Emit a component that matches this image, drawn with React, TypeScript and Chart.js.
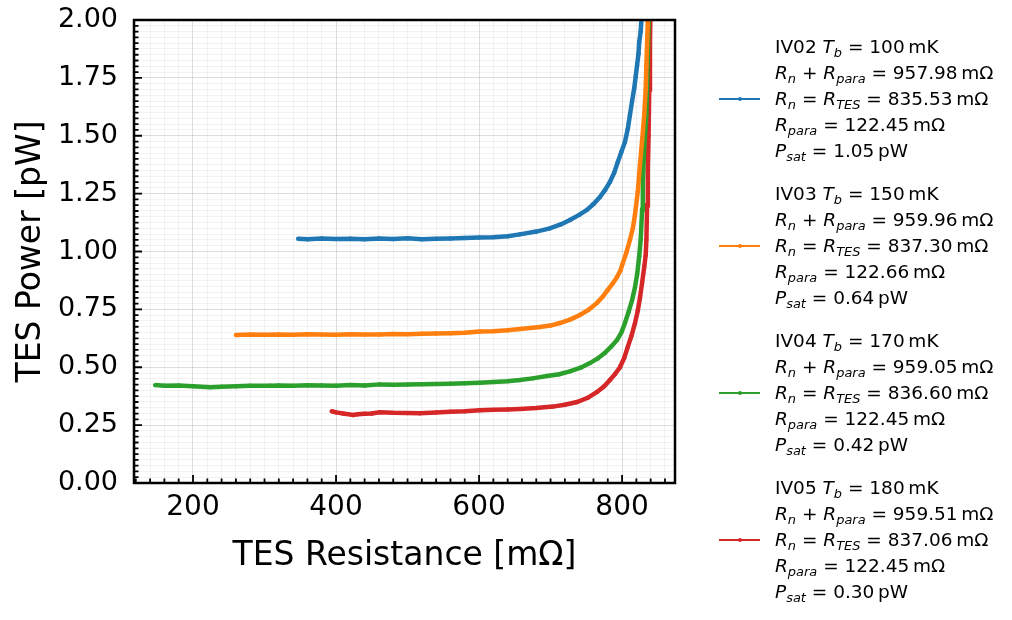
import { useEffect, useRef } from 'react';
import { Chart, registerables } from 'chart.js';

Chart.register(...registerables);
Chart.defaults.font.family = 'DejaVu Sans, sans-serif';

// matplotlib tab10
const COLORS = ['#1f77b4', '#ff7f0e', '#2ca02c', '#d62728'];

// IV02, Tb = 100 mK
const iv02R = [347, 360, 380, 400, 420, 440, 460, 480, 500, 520, 540, 560, 580, 600, 620, 640, 657, 680, 699, 715, 727, 740, 751, 760, 769, 776, 783, 789, 794, 799, 804, 808, 811, 814, 817, 819, 821, 823, 824, 826, 827, 830];
const iv02P = [1.055, 1.053, 1.056, 1.054, 1.055, 1.053, 1.056, 1.054, 1.057, 1.053, 1.055, 1.056, 1.058, 1.06, 1.062, 1.066, 1.074, 1.086, 1.1, 1.118, 1.136, 1.158, 1.18, 1.205, 1.235, 1.265, 1.3, 1.34, 1.387, 1.43, 1.473, 1.53, 1.59, 1.65, 1.706, 1.755, 1.806, 1.855, 1.905, 1.95, 2.0, 2.1];

// IV03, Tb = 150 mK
const iv03R = [260, 280, 300, 320, 340, 360, 380, 400, 420, 440, 461, 480, 500, 520, 540, 560, 580, 601, 620, 640, 657, 685, 700, 713, 728, 741, 753, 765, 773, 780, 787, 793, 798, 801, 806, 811, 815, 818, 822, 825, 828, 831, 833, 834, 836, 838];
const iv03P = [0.639, 0.641, 0.64, 0.642, 0.64, 0.643, 0.641, 0.64, 0.643, 0.641, 0.642, 0.644, 0.643, 0.645, 0.646, 0.647, 0.649, 0.654, 0.656, 0.66, 0.665, 0.674, 0.68, 0.691, 0.707, 0.726, 0.748, 0.778, 0.805, 0.834, 0.862, 0.89, 0.92, 0.95, 0.995, 1.05, 1.1, 1.158, 1.26, 1.374, 1.48, 1.59, 1.7, 1.806, 1.99, 2.1];

// IV04, Tb = 170 mK
const iv04R = [147, 160, 180, 200, 224, 240, 260, 280, 308, 320, 340, 360, 380, 400, 420, 440, 461, 480, 500, 520, 540, 560, 580, 601, 620, 640, 657, 675, 695, 712, 727, 742, 755, 766, 776, 785, 793, 799, 804, 809, 814, 818, 821, 824, 826, 828, 829, 831, 834, 836, 838];
const iv04P = [0.423, 0.42, 0.421, 0.418, 0.414, 0.416, 0.418, 0.42, 0.42, 0.421, 0.42, 0.422, 0.421, 0.42, 0.423, 0.421, 0.426, 0.424, 0.425, 0.427, 0.428, 0.429, 0.431, 0.433, 0.436, 0.44, 0.445, 0.452, 0.462, 0.47, 0.482, 0.498, 0.518, 0.538, 0.562, 0.59, 0.618, 0.65, 0.691, 0.738, 0.79, 0.845, 0.9, 0.98, 1.05, 1.18, 1.3, 1.45, 1.59, 1.85, 2.1];

// IV05, Tb = 180 mK
const iv05R = [394, 400, 410, 424, 430, 440, 450, 461, 480, 500, 517, 540, 560, 580, 601, 620, 640, 657, 680, 703, 720, 737, 752, 765, 775, 783, 790, 797, 803, 808, 813, 818, 822, 825, 828, 831, 833, 834, 835, 836, 837, 838, 839, 840];
const iv05P = [0.31, 0.305, 0.3, 0.294, 0.297, 0.299, 0.3, 0.306, 0.303, 0.302, 0.301, 0.305, 0.308, 0.31, 0.314, 0.316, 0.318, 0.32, 0.324, 0.33, 0.338, 0.35, 0.368, 0.393, 0.418, 0.445, 0.47, 0.5, 0.54, 0.588, 0.635, 0.69, 0.745, 0.8, 0.865, 0.933, 0.985, 1.05, 1.2, 1.35, 1.5, 1.7, 1.9, 2.1];

const seriesR = [iv02R, iv03R, iv04R, iv05R];
const seriesP = [iv02P, iv03P, iv04P, iv05P];

// legend values
const runNames = ['IV02', 'IV03', 'IV04', 'IV05'];
const bathTemps = [100, 150, 170, 180];
const rnPlusPara = ['957.98', '959.96', '959.05', '959.51'];
const rnTes = ['835.53', '837.30', '836.60', '837.06'];
const rPara = ['122.45', '122.66', '122.45', '122.45'];
const pSat = ['1.05', '0.64', '0.42', '0.30'];

// axes
const xTickLabels = [200, 400, 600, 800];
const yTickLabels = ['0.00', '0.25', '0.50', '0.75', '1.00', '1.25', '1.50', '1.75', '2.00'];

const isMajorX = (v: number) => xTickLabels.some(t => Math.abs(t - v) < 1e-6);
const isMajorY = (v: number) => yTickLabels.some(t => Math.abs(parseFloat(t) - v) < 1e-6);

// inward tick marks + the full black frame, like matplotlib's "in" ticks
const frameAndTicks = {
  id: 'frameAndTicks',
  afterDraw(chart: any) {
    const { ctx, chartArea: a, scales } = chart;
    ctx.save();
    ctx.strokeStyle = '#000';
    ctx.lineWidth = 1.8;
    ctx.beginPath();
    scales.x.ticks.forEach((t: any) => {
      const px = scales.x.getPixelForValue(t.value);
      const len = isMajorX(t.value) ? 8 : 4.5;
      ctx.moveTo(px, a.bottom);
      ctx.lineTo(px, a.bottom - len);
    });
    scales.y.ticks.forEach((t: any) => {
      const py = scales.y.getPixelForValue(t.value);
      const len = isMajorY(t.value) ? 8 : 4.5;
      ctx.moveTo(a.left, py);
      ctx.lineTo(a.left + len, py);
    });
    ctx.stroke();
    ctx.lineWidth = 2.5;
    ctx.strokeRect(a.left, a.top, a.right - a.left, a.bottom - a.top);
    ctx.restore();
  },
};

function Sub({ children }: { children: any }) {
  return <sub style={{ fontSize: '70%', verticalAlign: '-0.3em', lineHeight: 0 }}>{children}</sub>;
}

function LegendBlock({ i }: { i: number }) {
  const line = { height: 26, lineHeight: '26px', whiteSpace: 'nowrap' as const };
  return (
    <div style={{ position: 'absolute', left: 0, top: 34 + i * 147, width: 300 }}>
      <div style={{ position: 'absolute', left: 1, top: 64, width: 41, height: 2, background: COLORS[i] }} />
      <div style={{ position: 'absolute', left: 19.5, top: 63, width: 4, height: 4, borderRadius: 2, background: COLORS[i] }} />
      <div style={{ position: 'absolute', left: 57, top: 0 }}>
        <div style={line}>{runNames[i]} <i>T</i><Sub><i>b</i></Sub> = {bathTemps[i]}{'\u2009'}mK</div>
        <div style={line}><i>R</i><Sub><i>n</i></Sub> + <i>R</i><Sub><i>para</i></Sub> = {rnPlusPara[i]}{'\u2009'}mΩ</div>
        <div style={line}><i>R</i><Sub><i>n</i></Sub> = <i>R</i><Sub><i>TES</i></Sub> = {rnTes[i]}{'\u2009'}mΩ</div>
        <div style={line}><i>R</i><Sub><i>para</i></Sub> = {rPara[i]}{'\u2009'}mΩ</div>
        <div style={line}><i>P</i><Sub><i>sat</i></Sub> = {pSat[i]}{'\u2009'}pW</div>
      </div>
    </div>
  );
}

export default function App() {
  const canvasRef = useRef<HTMLCanvasElement>(null);

  useEffect(() => {
    if (!canvasRef.current) return;

    const chart = new Chart(canvasRef.current, {
      type: 'scatter',
      data: {
        datasets: seriesR.map((r, k) => ({
          label: runNames[k],
          data: r.map((x, j) => ({ x, y: seriesP[k][j] })),
          showLine: true,
          borderColor: COLORS[k],
          backgroundColor: COLORS[k],
          borderWidth: 4.5,
          pointRadius: 2.2,
          pointBorderWidth: 0,
        })),
      },
      options: {
        animation: false,
        responsive: true,
        maintainAspectRatio: false,
        layout: { padding: { left: 0, top: 20, right: 337, bottom: 0 } },
        plugins: { legend: { display: false }, tooltip: { enabled: false } },
        scales: {
          x: {
            type: 'linear',
            min: 117.5,
            max: 874,
            afterBuildTicks: (s: any) => {
              const t = [];
              for (let v = 120; v <= 860; v += 20) t.push({ value: v });
              s.ticks = t;
            },
            afterFit: (s: any) => {
              s.height = 137;
              s.paddingLeft = 0;
              s.paddingRight = 0;
            },
            ticks: {
              autoSkip: false,
              maxRotation: 0,
              padding: 8,
              color: '#000',
              font: { size: 28 },
              callback: (v: any) => (isMajorX(v) ? String(v) : ''),
            },
            grid: {
              drawTicks: false,
              lineWidth: 1,
              color: (c: any) => (c.tick && isMajorX(c.tick.value) ? 'rgba(0,0,0,0.13)' : 'rgba(0,0,0,0.05)'),
            },
            border: { display: false },
            title: {
              display: true,
              text: 'TES Resistance [mΩ]',
              color: '#000',
              font: { size: 33 },
              padding: { top: 0, bottom: 44 },
            },
          },
          y: {
            type: 'linear',
            min: 0,
            max: 2,
            afterBuildTicks: (s: any) => {
              const t = [];
              for (let i = 0; i <= 80; i++) t.push({ value: (i * 25) / 1000 });
              s.ticks = t;
            },
            afterFit: (s: any) => {
              s.width = 134;
              s.paddingTop = 0;
              s.paddingBottom = 0;
            },
            ticks: {
              autoSkip: false,
              padding: 16,
              color: '#000',
              font: { size: 27 },
              callback: (v: any) => {
                const lbl = yTickLabels.find(t => Math.abs(parseFloat(t) - v) < 1e-6);
                return lbl ?? '';
              },
            },
            grid: {
              drawTicks: false,
              lineWidth: 1,
              color: (c: any) => (c.tick && isMajorY(c.tick.value) ? 'rgba(0,0,0,0.13)' : 'rgba(0,0,0,0.05)'),
            },
            border: { display: false },
            title: {
              display: true,
              text: 'TES Power [pW]',
              color: '#000',
              font: { size: 33 },
              padding: { top: 12, bottom: 0 },
            },
          },
        },
      },
      plugins: [frameAndTicks],
    });

    return () => chart.destroy();
  }, []);

  return (
    <div style={{ position: 'absolute', left: 0, top: 0, width: 1012, height: 620, background: '#fff' }}>
      <canvas ref={canvasRef} />
      <div style={{ position: 'absolute', left: 718, top: 0, fontFamily: 'DejaVu Sans, sans-serif', fontSize: 18.5, color: '#000' }}>
        {runNames.map((_, i) => <LegendBlock key={i} i={i} />)}
      </div>
    </div>
  );
}
